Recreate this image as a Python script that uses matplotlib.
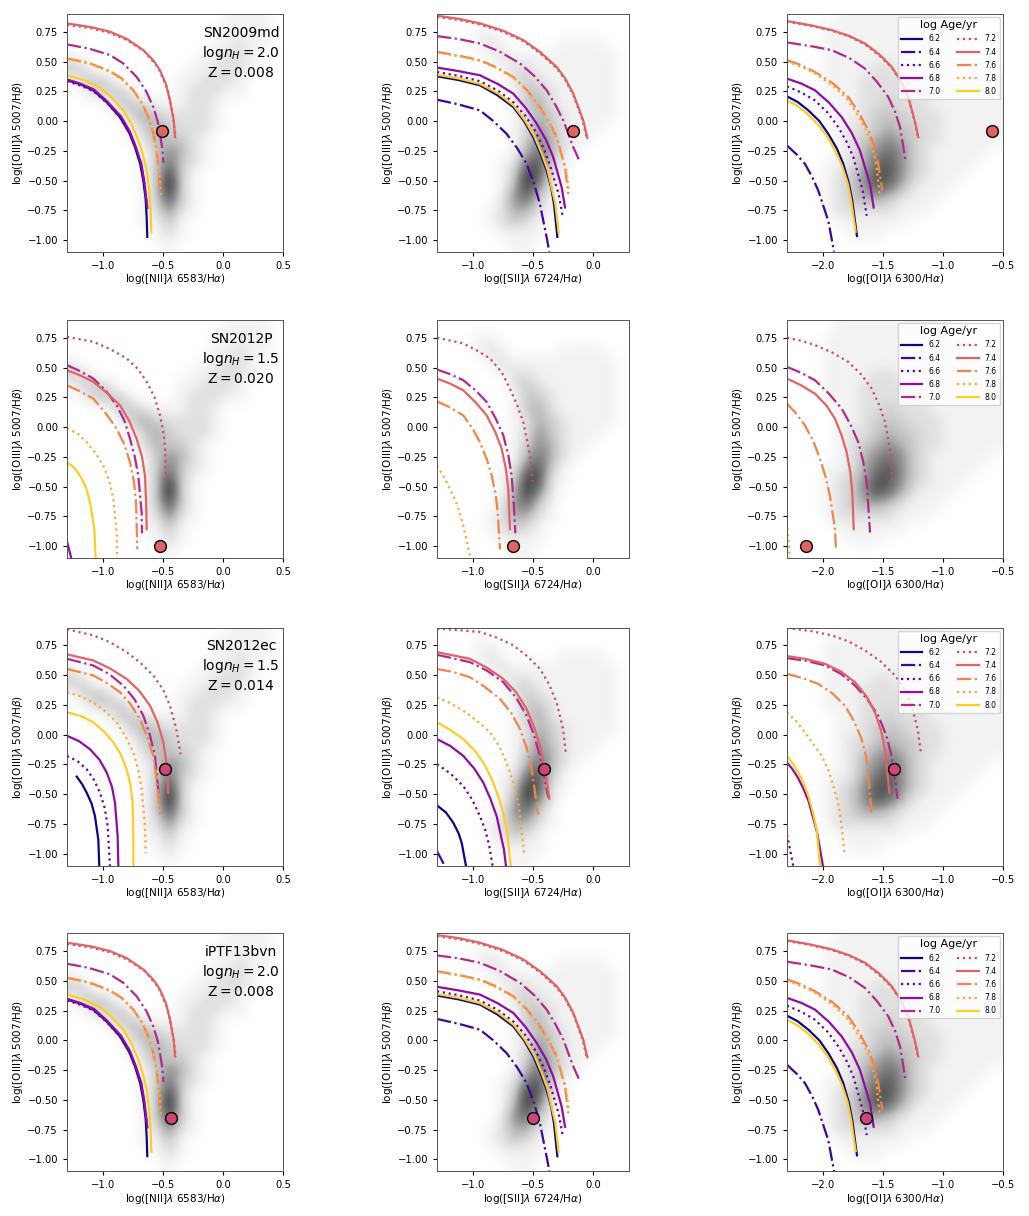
import numpy as np
import matplotlib.pyplot as plt
from matplotlib.lines import Line2D

# ---- model ages / styles ----
ages = [6.2, 6.4, 6.6, 6.8, 7.0, 7.2, 7.4, 7.6, 7.8, 8.0]
age_styles = ['-', '-.', ':', '-', '-.', ':', '-', '-.', ':', '-']
age_colors = plt.cm.plasma(np.linspace(0, 0.9, 10))

# ---- supernovae ----
sn_names = ['SN2009md', 'SN2012P', 'SN2012ec', 'iPTF13bvn']
sn_nh = ['2.0', '1.5', '1.5', '2.0']
sn_z = ['0.008', '0.020', '0.014', '0.008']
sn_nii = [(-0.51, -0.085), (-0.525, -1.0), (-0.483, -0.286), (-0.436, -0.655)]
sn_sii = [(-0.164, -0.085), (-0.669, -1.0), (-0.406, -0.286), (-0.50, -0.655)]
sn_oi = [(-0.594, -0.085), (-2.14, -1.0), (-1.406, -0.286), (-1.642, -0.655)]
sn_color_idx = [0.6, 0.6, 0.5, 0.5]

# ---- galaxy density (0.1 dex cells, top row y=0.85) ----
dens_nii = [
    "000000000000011110",
    "000000000000111110",
    "000000000000112110",
    "100000000001122100",
    "320000000011222100",
    "133200000112221000",
    "013331000122211000",
    "000133211122100000",
    "000013432222100000",
    "000001343222100000",
    "000001243321000000",
    "000000135421000000",
    "000000136321000000",
    "000000138310000000",
    "000000139310000000",
    "000000137310000000",
    "000000125210000000",
    "000000113100000000",
    "000000012100000000",
    "000000001000000000",
]
dens_sii = [
    "0000000000000000",
    "0001100000000000",
    "0001210000111100",
    "0000121111111110",
    "0000012211111110",
    "0000002321111110",
    "0000001332111110",
    "0000001342111110",
    "0000001243211110",
    "0000001253211100",
    "0000001354211000",
    "0000001464210000",
    "0000012673100000",
    "0000013872100000",
    "0000014852000000",
    "0000025631000000",
    "0000124421000000",
    "0000123210000000",
    "0000011110000000",
    "0000001100000000",
]
dens_oi = [
    "000011111111100000",
    "000111111111110000",
    "000111111111111000",
    "000111111111111100",
    "000111122111111110",
    "000111222211111111",
    "000111222221111111",
    "000011223222111111",
    "000011233322211111",
    "000012234332211111",
    "000012345432211111",
    "000012456532111110",
    "000112467532111100",
    "000123577532111000",
    "000123576421110000",
    "000123443211100000",
    "000122222111000000",
    "000011111100000000",
    "000001110000000000",
    "000000000000000000",
]

# ---- model tracks: logn=2.0, Z=0.008 ----
A_nii = {
    6.2: [(-1.30, 0.343), (-1.19, 0.31), (-1.081, 0.259), (-0.97, 0.16), (-0.858, 0.033), (-0.78, -0.10), (-0.733, -0.22), (-0.69, -0.36), (-0.664, -0.501), (-0.645, -0.65), (-0.636, -0.81), (-0.631, -0.973)],
    6.6: [(-1.30, 0.335), (-1.19, 0.30), (-1.081, 0.252), (-0.97, 0.155), (-0.858, 0.03), (-0.78, -0.10), (-0.73, -0.22), (-0.685, -0.36), (-0.66, -0.50), (-0.635, -0.70)],
    6.8: [(-1.30, 0.35), (-1.19, 0.315), (-1.075, 0.265), (-0.965, 0.165), (-0.85, 0.04), (-0.775, -0.09), (-0.725, -0.22), (-0.68, -0.36), (-0.657, -0.50), (-0.63, -0.73)],
    7.0: [(-1.30, 0.644), (-1.12, 0.61), (-0.942, 0.555), (-0.83, 0.484), (-0.72, 0.371), (-0.64, 0.25), (-0.581, 0.118), (-0.545, 0.0), (-0.525, -0.107), (-0.505, -0.24), (-0.497, -0.35)],
    7.2: [(-1.30, 0.81), (-1.10, 0.78), (-0.94, 0.74), (-0.80, 0.68), (-0.655, 0.585), (-0.54, 0.45), (-0.46, 0.26), (-0.42, 0.07), (-0.395, -0.14)],
    7.4: [(-1.30, 0.821), (-1.10, 0.79), (-0.942, 0.751), (-0.80, 0.69), (-0.664, 0.596), (-0.58, 0.51), (-0.525, 0.427), (-0.475, 0.31), (-0.442, 0.174), (-0.41, 0.0), (-0.40, -0.135)],
    7.6: [(-1.30, 0.526), (-1.12, 0.49), (-0.942, 0.42), (-0.84, 0.355), (-0.747, 0.259), (-0.675, 0.15), (-0.622, 0.033), (-0.58, -0.11), (-0.553, -0.248), (-0.535, -0.42), (-0.525, -0.60)],
    7.8: [(-1.30, 0.52), (-1.12, 0.485), (-0.942, 0.413), (-0.84, 0.348), (-0.745, 0.25), (-0.672, 0.14), (-0.618, 0.03), (-0.577, -0.11), (-0.55, -0.25), (-0.53, -0.43), (-0.52, -0.62)],
    8.0: [(-1.30, 0.385), (-1.16, 0.345), (-1.025, 0.28), (-0.93, 0.20), (-0.831, 0.09), (-0.76, -0.03), (-0.706, -0.163), (-0.665, -0.29), (-0.636, -0.416), (-0.615, -0.58), (-0.603, -0.754), (-0.597, -0.937)],
}
A_sii = {
    6.2: [(-1.30, 0.377), (-1.12, 0.345), (-0.942, 0.301), (-0.80, 0.22), (-0.664, 0.118), (-0.575, 0.0), (-0.497, -0.135), (-0.435, -0.28), (-0.386, -0.416), (-0.348, -0.56), (-0.325, -0.698), (-0.297, -0.973)],
    6.4: [(-1.30, 0.18), (-1.12, 0.14), (-0.942, 0.09), (-0.83, 0.0), (-0.72, -0.107), (-0.63, -0.23), (-0.553, -0.36), (-0.49, -0.53), (-0.442, -0.698), (-0.386, -0.979), (-0.364, -1.097)],
    6.6: [(-1.30, 0.413), (-1.12, 0.38), (-0.942, 0.335), (-0.79, 0.255), (-0.66, 0.155), (-0.56, 0.04), (-0.48, -0.085), (-0.41, -0.23), (-0.355, -0.38), (-0.285, -0.62), (-0.253, -0.796)],
    6.8: [(-1.30, 0.45), (-1.12, 0.42), (-0.942, 0.385), (-0.79, 0.31), (-0.664, 0.231), (-0.56, 0.11), (-0.469, -0.022), (-0.39, -0.16), (-0.331, -0.304), (-0.261, -0.557), (-0.233, -0.726)],
    7.0: [(-1.30, 0.714), (-1.12, 0.69), (-0.942, 0.652), (-0.78, 0.585), (-0.608, 0.484), (-0.49, 0.38), (-0.386, 0.259), (-0.31, 0.13), (-0.247, 0.005), (-0.164, -0.22), (-0.114, -0.332)],
    7.2: [(-1.30, 0.875), (-1.12, 0.85), (-0.942, 0.812), (-0.75, 0.75), (-0.581, 0.672), (-0.44, 0.57), (-0.303, 0.445), (-0.23, 0.345), (-0.164, 0.22), (-0.085, 0.0), (-0.055, -0.13)],
    7.4: [(-1.30, 0.885), (-1.12, 0.86), (-0.942, 0.821), (-0.75, 0.76), (-0.581, 0.681), (-0.44, 0.58), (-0.303, 0.456), (-0.23, 0.355), (-0.164, 0.231), (-0.081, 0.005), (-0.047, -0.141)],
    7.6: [(-1.30, 0.582), (-1.12, 0.55), (-0.942, 0.512), (-0.80, 0.45), (-0.664, 0.371), (-0.55, 0.26), (-0.442, 0.118), (-0.365, -0.01), (-0.303, -0.135), (-0.233, -0.388), (-0.206, -0.613)],
    7.8: [(-1.30, 0.575), (-1.12, 0.545), (-0.942, 0.505), (-0.80, 0.443), (-0.664, 0.365), (-0.55, 0.255), (-0.44, 0.11), (-0.362, -0.015), (-0.30, -0.14), (-0.228, -0.39), (-0.198, -0.60)],
    8.0: [(-1.30, 0.39), (-1.12, 0.358), (-0.942, 0.313), (-0.79, 0.232), (-0.66, 0.13), (-0.57, 0.01), (-0.49, -0.125), (-0.428, -0.27), (-0.378, -0.41), (-0.315, -0.69), (-0.286, -0.937)],
}
A_oi = {
    6.2: [(-2.30, 0.208), (-2.21, 0.16), (-2.122, 0.09), (-2.03, 0.0), (-1.956, -0.107), (-1.885, -0.23), (-1.831, -0.36), (-1.785, -0.52), (-1.756, -0.67), (-1.717, -0.965)],
    6.4: [(-2.30, -0.205), (-2.22, -0.28), (-2.15, -0.36), (-2.09, -0.47), (-2.039, -0.585), (-1.956, -0.838), (-1.908, -1.097)],
    6.6: [(-2.30, 0.292), (-2.18, 0.24), (-2.067, 0.174), (-1.96, 0.07), (-1.872, -0.051), (-1.80, -0.18), (-1.747, -0.304), (-1.669, -0.585), (-1.636, -0.796)],
    6.8: [(-2.30, 0.357), (-2.18, 0.315), (-2.067, 0.259), (-1.95, 0.155), (-1.844, 0.033), (-1.76, -0.10), (-1.692, -0.248), (-1.608, -0.529), (-1.578, -0.726)],
    7.0: [(-2.30, 0.661), (-2.10, 0.63), (-1.928, 0.596), (-1.78, 0.53), (-1.65, 0.441), (-1.55, 0.33), (-1.456, 0.202), (-1.40, 0.08), (-1.358, -0.051), (-1.311, -0.338)],
    7.2: [(-2.30, 0.835), (-2.10, 0.80), (-1.928, 0.76), (-1.78, 0.71), (-1.65, 0.645), (-1.53, 0.55), (-1.428, 0.45), (-1.35, 0.33), (-1.29, 0.195), (-1.235, -0.005), (-1.21, -0.13)],
    7.4: [(-2.30, 0.841), (-2.10, 0.805), (-1.928, 0.765), (-1.78, 0.715), (-1.65, 0.652), (-1.53, 0.56), (-1.428, 0.456), (-1.35, 0.335), (-1.289, 0.202), (-1.235, 0.0), (-1.206, -0.135)],
    7.6: [(-2.30, 0.512), (-2.18, 0.47), (-2.067, 0.413), (-1.92, 0.32), (-1.789, 0.202), (-1.70, 0.07), (-1.622, -0.079), (-1.57, -0.22), (-1.539, -0.36), (-1.506, -0.585)],
    7.8: [(-2.30, 0.50), (-2.18, 0.455), (-2.067, 0.40), (-1.92, 0.30), (-1.80, 0.185), (-1.71, 0.05), (-1.635, -0.09), (-1.585, -0.23), (-1.555, -0.37), (-1.528, -0.625)],
    8.0: [(-2.30, 0.174), (-2.21, 0.125), (-2.128, 0.06), (-2.04, -0.03), (-1.962, -0.135), (-1.895, -0.255), (-1.84, -0.38), (-1.795, -0.52), (-1.765, -0.67), (-1.728, -0.93)],
}

# ---- model tracks: logn=1.5, Z=0.020 ----
B_nii = {
    6.8: [(-1.30, -0.96), (-1.26, -1.12)],
    7.0: [(-1.30, 0.52), (-1.19, 0.47), (-1.081, 0.408), (-0.98, 0.31), (-0.886, 0.183), (-0.82, 0.05), (-0.775, -0.098), (-0.735, -0.25), (-0.706, -0.408), (-0.678, -0.718), (-0.675, -0.892)],
    7.2: [(-1.30, 0.759), (-1.081, 0.717), (-0.94, 0.655), (-0.803, 0.577), (-0.71, 0.49), (-0.636, 0.38), (-0.57, 0.25), (-0.525, 0.098), (-0.495, -0.05), (-0.483, -0.183), (-0.475, -0.478)],
    7.4: [(-1.30, 0.478), (-1.19, 0.435), (-1.081, 0.38), (-0.97, 0.29), (-0.858, 0.183), (-0.78, 0.05), (-0.72, -0.098), (-0.675, -0.25), (-0.65, -0.408), (-0.64, -0.65), (-0.636, -0.858)],
    7.6: [(-1.30, 0.351), (-1.19, 0.30), (-1.081, 0.239), (-0.98, 0.12), (-0.886, -0.014), (-0.82, -0.15), (-0.775, -0.296), (-0.742, -0.46), (-0.725, -0.633), (-0.714, -1.027)],
    7.8: [(-1.30, -0.009), (-1.21, -0.055), (-1.136, -0.127), (-1.06, -0.22), (-0.997, -0.324), (-0.945, -0.46), (-0.914, -0.605), (-0.886, -0.886), (-0.881, -1.111)],
    8.0: [(-1.30, -0.296), (-1.24, -0.34), (-1.192, -0.408), (-1.14, -0.51), (-1.108, -0.633), (-1.072, -0.858), (-1.061, -1.111)],
}
B_sii = {
    7.0: [(-1.30, 0.484), (-1.19, 0.445), (-1.081, 0.394), (-0.98, 0.31), (-0.886, 0.211), (-0.81, 0.07), (-0.747, -0.07), (-0.705, -0.24), (-0.678, -0.408), (-0.66, -0.65), (-0.647, -0.892)],
    7.2: [(-1.30, 0.751), (-1.081, 0.703), (-0.97, 0.645), (-0.858, 0.577), (-0.76, 0.46), (-0.692, 0.323), (-0.63, 0.18), (-0.581, 0.042), (-0.525, -0.239), (-0.503, -0.478)],
    7.4: [(-1.30, 0.408), (-1.19, 0.365), (-1.081, 0.309), (-0.98, 0.21), (-0.886, 0.098), (-0.815, -0.04), (-0.761, -0.183), (-0.726, -0.35), (-0.706, -0.52), (-0.692, -0.858)],
    7.6: [(-1.30, 0.216), (-1.19, 0.165), (-1.081, 0.098), (-1.005, -0.01), (-0.942, -0.127), (-0.885, -0.27), (-0.844, -0.408), (-0.812, -0.56), (-0.794, -0.718), (-0.775, -1.027)],
    7.8: [(-1.30, -0.324), (-1.23, -0.44), (-1.164, -0.577), (-1.115, -0.70), (-1.081, -0.83), (-1.025, -1.083)],
}
B_oi = {
    7.0: [(-2.30, 0.506), (-2.18, 0.455), (-2.067, 0.394), (-1.95, 0.28), (-1.844, 0.155), (-1.77, 0.02), (-1.706, -0.127), (-1.665, -0.29), (-1.636, -0.464), (-1.608, -0.886)],
    7.2: [(-2.30, 0.751), (-2.18, 0.725), (-2.067, 0.689), (-1.93, 0.63), (-1.789, 0.548), (-1.68, 0.44), (-1.594, 0.323), (-1.53, 0.18), (-1.483, 0.042), (-1.433, -0.239), (-1.419, -0.478)],
    7.4: [(-2.30, 0.408), (-2.18, 0.35), (-2.067, 0.281), (-1.97, 0.18), (-1.90, 0.07), (-1.845, -0.07), (-1.803, -0.211), (-1.772, -0.38), (-1.756, -0.549), (-1.744, -0.858)],
    7.6: [(-2.30, 0.197), (-2.22, 0.11), (-2.15, 0.014), (-2.08, -0.12), (-2.025, -0.267), (-1.978, -0.42), (-1.942, -0.577), (-1.90, -0.858), (-1.892, -1.027)],
    7.8: [(-2.30, -0.80), (-2.275, -1.10)],
}

# ---- model tracks: logn=1.5, Z=0.014 ----
C_nii = {
    6.2: [(-1.219, -0.353), (-1.175, -0.415), (-1.136, -0.488), (-1.095, -0.58), (-1.067, -0.685), (-1.039, -0.882), (-1.031, -1.107)],
    6.6: [(-1.30, -0.179), (-1.21, -0.225), (-1.136, -0.291), (-1.075, -0.38), (-1.025, -0.488), (-0.985, -0.62), (-0.961, -0.769), (-0.942, -1.107)],
    6.8: [(-1.30, -0.01), (-1.20, -0.055), (-1.108, -0.123), (-1.03, -0.21), (-0.969, -0.319), (-0.925, -0.44), (-0.90, -0.573), (-0.878, -0.854), (-0.872, -1.107)],
    7.0: [(-1.30, 0.637), (-1.081, 0.581), (-0.95, 0.51), (-0.831, 0.412), (-0.74, 0.3), (-0.664, 0.159), (-0.61, 0.0), (-0.567, -0.179), (-0.533, -0.53)],
    7.2: [(-1.30, 0.885), (-1.081, 0.834), (-0.94, 0.775), (-0.803, 0.693), (-0.69, 0.605), (-0.581, 0.497), (-0.50, 0.38), (-0.442, 0.243), (-0.39, 0.05), (-0.353, -0.165)],
    7.4: [(-1.30, 0.674), (-1.081, 0.623), (-0.94, 0.555), (-0.803, 0.468), (-0.70, 0.37), (-0.608, 0.243), (-0.545, 0.10), (-0.497, -0.066), (-0.464, -0.291), (-0.456, -0.488)],
    7.6: [(-1.30, 0.552), (-1.081, 0.497), (-0.97, 0.435), (-0.858, 0.356), (-0.77, 0.255), (-0.692, 0.13), (-0.63, -0.02), (-0.581, -0.179), (-0.545, -0.43), (-0.525, -0.671)],
    7.8: [(-1.30, 0.356), (-1.18, 0.32), (-1.081, 0.271), (-0.98, 0.195), (-0.886, 0.103), (-0.81, -0.02), (-0.747, -0.151), (-0.705, -0.30), (-0.678, -0.46), (-0.65, -0.769), (-0.644, -0.995)],
    8.0: [(-1.30, 0.187), (-1.18, 0.155), (-1.081, 0.103), (-0.99, 0.025), (-0.914, -0.066), (-0.85, -0.17), (-0.803, -0.291), (-0.772, -0.42), (-0.753, -0.573), (-0.747, -0.854), (-0.747, -1.107)],
}
C_sii = {
    6.2: [(-1.30, -0.595), (-1.225, -0.655), (-1.164, -0.741), (-1.12, -0.83), (-1.094, -0.91), (-1.058, -1.107)],
    6.4: [(-1.30, -0.98), (-1.233, -1.107)],
    6.6: [(-1.30, -0.249), (-1.19, -0.325), (-1.081, -0.432), (-1.005, -0.55), (-0.942, -0.685), (-0.895, -0.81), (-0.864, -0.938), (-0.836, -1.107)],
    6.8: [(-1.30, -0.038), (-1.19, -0.095), (-1.081, -0.179), (-0.99, -0.285), (-0.914, -0.404), (-0.855, -0.54), (-0.803, -0.685), (-0.742, -0.966), (-0.725, -1.107)],
    7.0: [(-1.30, 0.671), (-1.025, 0.609), (-0.88, 0.535), (-0.747, 0.44), (-0.64, 0.31), (-0.553, 0.159), (-0.49, -0.01), (-0.442, -0.179), (-0.372, -0.53)],
    7.2: [(-1.30, 0.89), (-1.12, 0.878), (-0.942, 0.862), (-0.80, 0.815), (-0.664, 0.75), (-0.55, 0.66), (-0.442, 0.553), (-0.365, 0.42), (-0.303, 0.271), (-0.25, 0.05), (-0.225, -0.165)],
    7.4: [(-1.30, 0.693), (-1.025, 0.637), (-0.88, 0.56), (-0.747, 0.468), (-0.64, 0.355), (-0.553, 0.215), (-0.49, 0.06), (-0.442, -0.094), (-0.395, -0.32), (-0.364, -0.539)],
    7.6: [(-1.30, 0.552), (-1.16, 0.525), (-1.025, 0.482), (-0.90, 0.40), (-0.775, 0.299), (-0.68, 0.18), (-0.608, 0.046), (-0.55, -0.12), (-0.511, -0.291), (-0.456, -0.671)],
    7.8: [(-1.30, 0.313), (-1.19, 0.265), (-1.081, 0.201), (-0.96, 0.11), (-0.858, 0.018), (-0.78, -0.10), (-0.72, -0.235), (-0.665, -0.40), (-0.622, -0.573), (-0.575, -0.995)],
    8.0: [(-1.30, 0.103), (-1.19, 0.04), (-1.081, -0.038), (-0.99, -0.13), (-0.914, -0.235), (-0.845, -0.37), (-0.789, -0.516), (-0.745, -0.67), (-0.714, -0.826), (-0.686, -1.107)],
}
C_oi = {
    6.6: [(-2.30, -0.84), (-2.247, -1.107)],
    6.8: [(-2.30, -0.235), (-2.255, -0.29), (-2.21, -0.36), (-2.165, -0.45), (-2.12, -0.56), (-2.05, -0.82), (-2.00, -1.107)],
    7.0: [(-2.30, 0.643), (-2.14, 0.62), (-1.983, 0.581), (-1.85, 0.51), (-1.733, 0.412), (-1.63, 0.295), (-1.539, 0.159), (-1.475, 0.0), (-1.428, -0.179), (-1.378, -0.539)],
    7.2: [(-2.30, 0.896), (-2.10, 0.87), (-1.928, 0.834), (-1.78, 0.78), (-1.65, 0.707), (-1.52, 0.615), (-1.40, 0.497), (-1.32, 0.38), (-1.261, 0.243), (-1.21, 0.04), (-1.183, -0.165)],
    7.4: [(-2.30, 0.66), (-2.14, 0.635), (-1.983, 0.595), (-1.85, 0.53), (-1.733, 0.44), (-1.64, 0.325), (-1.567, 0.187), (-1.515, 0.03), (-1.483, -0.123), (-1.447, -0.488)],
    7.6: [(-2.30, 0.51), (-2.17, 0.475), (-2.039, 0.426), (-1.92, 0.345), (-1.817, 0.243), (-1.74, 0.11), (-1.678, -0.038), (-1.64, -0.19), (-1.622, -0.35), (-1.594, -0.671)],
    7.8: [(-2.30, 0.187), (-2.22, 0.11), (-2.15, 0.018), (-2.08, -0.08), (-2.011, -0.179), (-1.955, -0.30), (-1.914, -0.432), (-1.875, -0.57), (-1.85, -0.713), (-1.822, -0.995)],
    8.0: [(-2.30, -0.179), (-2.25, -0.245), (-2.206, -0.319), (-2.16, -0.41), (-2.122, -0.516), (-2.085, -0.65), (-2.053, -0.798), (-2.025, -1.107)],
}

row_models = [(A_nii, A_sii, A_oi), (B_nii, B_sii, B_oi), (C_nii, C_sii, C_oi), (A_nii, A_sii, A_oi)]
col_points = [sn_nii, sn_sii, sn_oi]
col_dens = [dens_nii, dens_sii, dens_oi]
col_xlim = [(-1.3, 0.5), (-1.3, 0.3), (-2.3, -0.5)]
col_xticks = [[-1.0, -0.5, 0.0, 0.5], [-1.0, -0.5, 0.0], [-2.0, -1.5, -1.0, -0.5]]
col_xlabel = [r'log([NII]$\lambda$ 6583/H$\alpha$)',
              r'log([SII]$\lambda$ 6724/H$\alpha$)',
              r'log([OI]$\lambda$ 6300/H$\alpha$)']
ylabel = r'log([OIII]$\lambda$ 5007/H$\beta$)'
ylim = (-1.1, 0.9)

# ---- layout in pixels ----
W, H = 1029, 1216
col_left = [67, 437, 787]
col_width = [216, 192, 216]
row_top = [14, 320, 627.5, 933.3]
ax_h = 238

fig = plt.figure(figsize=(W / 100, H / 100), dpi=100)

for r in range(4):
    for c in range(3):
        ax = fig.add_axes([col_left[c] / W, 1 - (row_top[r] + ax_h) / H,
                           col_width[c] / W, ax_h / H])
        x0, x1 = col_xlim[c]
        dens = np.array([[int(ch) for ch in row] for row in col_dens[c]], dtype=float)
        ax.imshow(dens, extent=(x0, x1, ylim[0], ylim[1]), origin='upper',
                  cmap='Greys', vmin=0, vmax=9.5, interpolation='bicubic',
                  aspect='auto', zorder=0)

        model = row_models[r][c]
        for i, age in enumerate(ages):
            if age not in model:
                continue
            pts = np.array(model[age])
            ax.plot(pts[:, 0], pts[:, 1], ls=age_styles[i], color=age_colors[i],
                    lw=1.6, zorder=2 + i * 0.01)

        px, py = col_points[c][r]
        ax.plot(px, py, 'o', ms=8.5, mfc=plt.cm.plasma(sn_color_idx[r]),
                mec='black', mew=1.0, zorder=5)

        ax.set_xlim(x0, x1)
        ax.set_ylim(*ylim)
        ax.set_xticks(col_xticks[c])
        ax.set_yticks([-1.0, -0.75, -0.5, -0.25, 0.0, 0.25, 0.5, 0.75])
        ax.tick_params(labelsize=7.2, length=3)
        ax.set_xlabel(col_xlabel[c], fontsize=7.5, labelpad=1)
        ax.set_ylabel(ylabel, fontsize=7.5, labelpad=2)
        for sp in ax.spines.values():
            sp.set_linewidth(0.7)
            sp.set_color('#555555')

        if c == 0:
            ax.text(0.806, 0.921, sn_names[r], transform=ax.transAxes,
                    ha='center', va='center', fontsize=10)
            ax.text(0.806, 0.837, r'log$n_H = $' + sn_nh[r], transform=ax.transAxes,
                    ha='center', va='center', fontsize=10)
            ax.text(0.806, 0.753, r'Z$ = $' + sn_z[r], transform=ax.transAxes,
                    ha='center', va='center', fontsize=10)
        if c == 2:
            handles = [Line2D([], [], ls=age_styles[i], color=age_colors[i], lw=1.6)
                       for i in range(len(ages))]
            ax.legend(handles, [f'{a:.1f}' for a in ages], ncol=2, loc='upper right',
                      title='log Age/yr', fontsize=5.5, title_fontsize=8,
                      handlelength=2.8, labelspacing=0.55, columnspacing=2.2,
                      borderaxespad=0.4)

fig.savefig('out.png', dpi=100)
